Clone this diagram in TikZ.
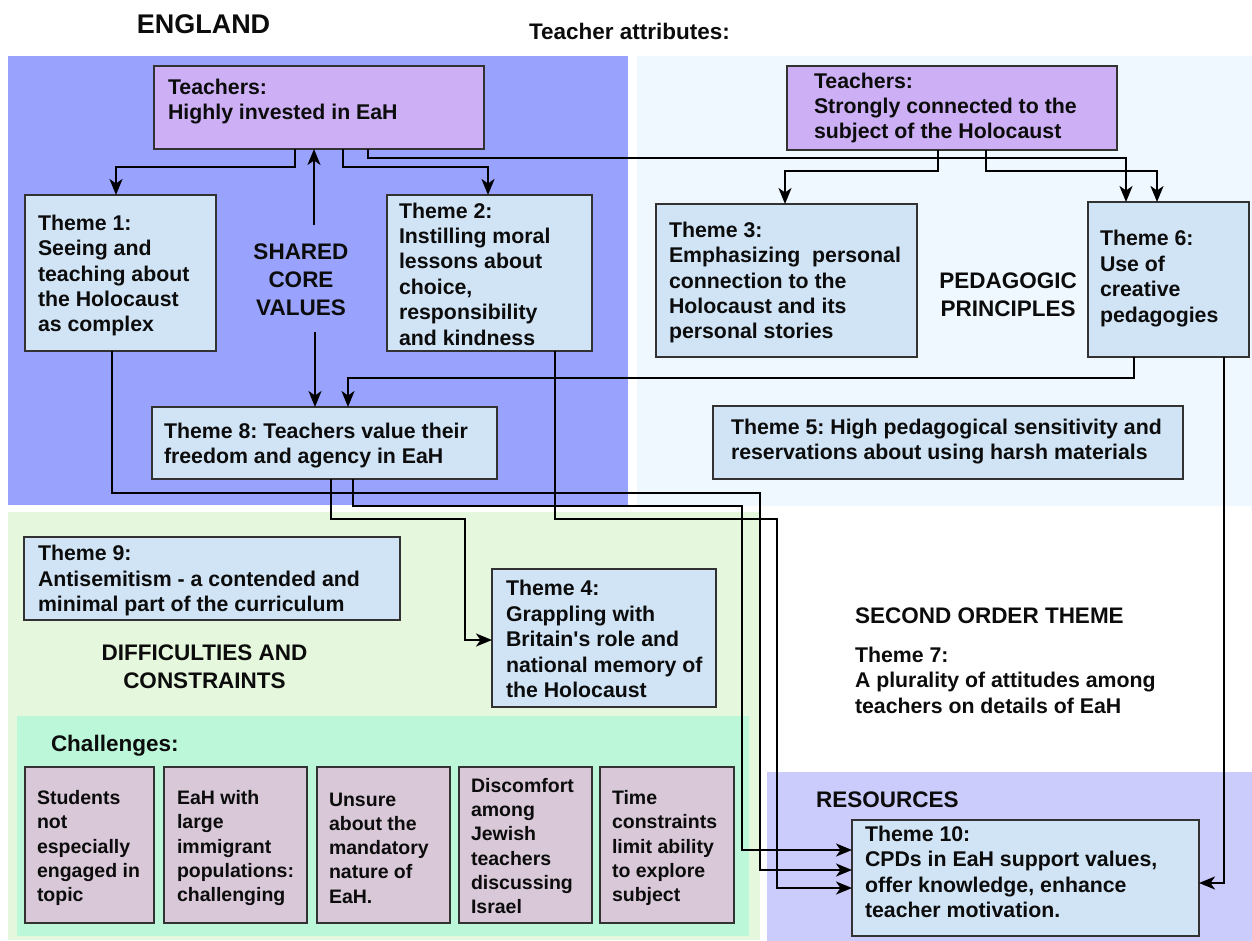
\documentclass[tikz,border=0pt]{standalone}
\usepackage{fontspec}
\setmainfont{Liberation Sans}
\usetikzlibrary{arrows.meta}

\definecolor{engbg}{RGB}{153,163,254}
\definecolor{pedbg}{RGB}{238,248,254}
\definecolor{difbg}{RGB}{229,247,220}
\definecolor{chalbg}{RGB}{187,247,216}
\definecolor{resbg}{RGB}{204,204,252}
\definecolor{teachfill}{RGB}{204,175,245}
\definecolor{themefill}{RGB}{208,228,246}
\definecolor{chalfill}{RGB}{216,200,216}
\definecolor{boxline}{RGB}{50,50,50}
\definecolor{ink}{RGB}{12,12,12}

\begin{document}
\frenchspacing
\begin{tikzpicture}[x=1pt, y=-1pt,
  every node/.style={inner sep=0pt, outer sep=0pt},
  box/.style={draw=boxline, line width=1.3pt, inner sep=0pt},
  theme/.style={box, fill=themefill},
  teacher/.style={box, fill=teachfill},
  chal/.style={box, fill=chalfill},
  txt/.style={align=left, text=ink, font=\fontsize{21.3}{25.4}\selectfont\bfseries\frenchspacing},
  chtxt/.style={align=left, text=ink, font=\fontsize{19.5}{24.3}\selectfont\bfseries\frenchspacing},
  head/.style={align=center, text=ink, font=\fontsize{22.5}{27.5}\selectfont\bfseries\frenchspacing},
  bighead/.style={text=ink, font=\fontsize{27}{32}\selectfont\bfseries},
  link/.style={line width=2.2pt, draw=black, -{Stealth[length=16pt,width=13pt,inset=4.5pt]}},
]
\useasboundingbox (0,0) rectangle (1252,941);

% background regions
\fill[engbg]  (8,56)    rectangle (628,505);
\fill[pedbg]  (637,56)  rectangle (1252,506);
\fill[difbg]  (8,512)   rectangle (760,940);
\fill[chalbg] (17,716)  rectangle (749,936);
\fill[resbg]  (767,772) rectangle (1252,941);

% headings (multi-line nodes sit on the baseline of their last line)
\node[bighead, anchor=base] (england) at (203.5,34) {ENGLAND};
\node[head, anchor=base] (attr) at (629.5,40) {Teacher attributes:};
\node[head, anchor=base] (shared) at (301,315) {SHARED\\CORE\\VALUES};
\node[head, anchor=base] (pedag) at (1008,316) {PEDAGOGIC\\PRINCIPLES};
\node[head, anchor=base] (diffs) at (204.5,688) {DIFFICULTIES AND\\CONSTRAINTS};
\node[head, anchor=base west] (chall) at (51,751) {Challenges:};
\node[head, anchor=base west] (second) at (855,623) {SECOND ORDER THEME};
\node[txt, anchor=base west] (t7) at (855,713) {Theme 7:\\A plurality of attitudes among\\teachers on details of EaH};
\node[head, anchor=base west] (res) at (816,807) {RESOURCES};

% teacher attribute boxes
\node[teacher, minimum width=330pt, minimum height=83pt] (teachE) at (319,107.5) {};
\node[txt, anchor=west] (teachEx) at ([xshift=14pt, yshift=6pt]teachE.west) {Teachers:\\Highly invested in EaH};
\node[teacher, minimum width=330pt, minimum height=84pt] (teachS) at (952,108) {};
\node[txt, anchor=west] (teachSx) at ([xshift=27pt]teachS.west) {Teachers:\\Strongly connected to the\\subject of the Holocaust};

% theme boxes
\node[theme, minimum width=191pt, minimum height=156pt] (t1) at (120.5,273) {};
\node[txt, anchor=west] (t1x) at ([xshift=13pt, yshift=-2.5pt]t1.west) {Theme 1:\\Seeing and\\teaching about\\the Holocaust\\as complex};
\node[theme, minimum width=205pt, minimum height=156pt] (t2) at (489.5,273) {};
\node[txt, anchor=west] (t2x) at ([xshift=12pt, yshift=-1pt]t2.west) {Theme 2:\\Instilling moral\\lessons about\\choice,\\responsibility\\and kindness};
\node[theme, minimum width=261pt, minimum height=153pt] (t3) at (786.5,280.5) {};
\node[txt, anchor=west] (t3x) at ([xshift=13pt, yshift=-2pt]t3.west) {Theme 3:\\Emphasizing\ \ personal\\connection to the\\Holocaust and its\\personal stories};
\node[theme, minimum width=161pt, minimum height=155pt] (t6) at (1168.5,279.5) {};
\node[txt, anchor=west] (t6x) at ([xshift=12pt, yshift=1pt]t6.west) {Theme 6:\\Use of\\creative\\pedagogies};
\node[theme, minimum width=345pt, minimum height=72pt] (t8) at (324.5,443) {};
\node[txt, anchor=west] (t8x) at ([xshift=12pt, yshift=-2.5pt]t8.west) {Theme 8: Teachers value their\\freedom and agency in EaH};
\node[theme, minimum width=470pt, minimum height=73pt] (t5) at (948,442.5) {};
\node[txt, anchor=west] (t5x) at ([xshift=18pt, yshift=1pt]t5.west) {Theme 5: High pedagogical sensitivity and\\reservations about using harsh materials};
\node[theme, minimum width=376pt, minimum height=83pt] (t9) at (212,578.5) {};
\node[txt, anchor=west] (t9x) at ([xshift=14pt, yshift=-2pt]t9.west) {Theme 9:\\Antisemitism - a contended and\\minimal part of the curriculum};
\node[theme, minimum width=224pt, minimum height=138pt] (t4) at (604,638) {};
\node[txt, anchor=west] (t4x) at ([xshift=14pt, yshift=-1pt]t4.west) {Theme 4:\\Grappling with\\Britain\textquotesingle s role and\\national memory of\\the Holocaust};
\node[theme, minimum width=347pt, minimum height=116pt] (t10) at (1025.5,878) {};
\node[txt, anchor=west] (t10x) at ([xshift=13pt, yshift=6pt]t10.west) {Theme 10:\\CPDs in EaH support values,\\offer knowledge, enhance\\teacher motivation.};

% challenge boxes
\node[chal, minimum width=129pt, minimum height=156pt] (c1) at (89.5,845) {};
\node[chtxt, anchor=west] (c1x) at ([xshift=12pt, yshift=-3pt]c1.west) {Students\\not\\especially\\engaged in\\topic};
\node[chal, minimum width=143pt, minimum height=156pt] (c2) at (235.5,845) {};
\node[chtxt, anchor=west] (c2x) at ([xshift=13pt, yshift=-3pt]c2.west) {EaH with\\large\\immigrant\\populations:\\challenging};
\node[chal, minimum width=133pt, minimum height=156pt] (c3) at (383.5,845) {};
\node[chtxt, anchor=west] (c3x) at ([xshift=12pt, yshift=-3pt]c3.west) {Unsure\\about the\\mandatory\\nature of\\EaH.};
\node[chal, minimum width=133pt, minimum height=156pt] (c4) at (525.5,845) {};
\node[chtxt, anchor=west] (c4x) at ([xshift=12pt, yshift=-1pt]c4.west) {Discomfort\\among\\Jewish\\teachers\\discussing\\Israel};
\node[chal, minimum width=134pt, minimum height=156pt] (c5) at (667,845) {};
\node[chtxt, anchor=west] (c5x) at ([xshift=12pt, yshift=-3pt]c5.west) {Time\\constraints\\limit ability\\to explore\\subject};

% connector end points
\coordinate (shUp)  at (314,225);
\coordinate (shDn)  at (315,332);

% teachers (England) to themes 1, 2, 6 and shared values up
\draw[link] ([xshift=-24pt]teachE.south) -- ++(0,18) -| ([xshift=-4.5pt]t1.north);
\draw[link] (shUp) -- ([xshift=-5pt]teachE.south);
\draw[link] ([xshift=24pt]teachE.south) -- ++(0,18) -| ([xshift=-1.5pt]t2.north);
\draw[link] ([xshift=49pt]teachE.south) -- ++(0,9) -| ([xshift=-42.5pt]t6.north);

% teachers (subject) to themes 3 and 6
\draw[link] ([xshift=-14pt]teachS.south) -- ++(0,21) -| ([xshift=-1.5pt]t3.north);
\draw[link] ([xshift=34pt]teachS.south) -- ++(0,21) -| ([xshift=-11.5pt]t6.north);

% into theme 8
\draw[link] ([xshift=-34.5pt]t6.south) -- ++(0,21) -| ([xshift=23.5pt]t8.north);
\draw[link] (shDn) -- ([xshift=-9.5pt]t8.north);

% into theme 10
\draw[link] ([xshift=55.5pt]t6.south) |- ([yshift=-5pt]t10.east);
\draw[link] ([xshift=-8.5pt]t1.south) -- ++(0,142) -- ++(648,0) |- ([yshift=8pt]t10.west);
\draw[link] ([xshift=28.5pt]t8.south) -- ++(0,27) -- ++(389,0) |- ([yshift=28pt]t10.west);
\draw[link] ([xshift=65.5pt]t2.south) -- ++(0,168) -- ++(222,0) |- ([yshift=-10pt]t10.west);

% theme 8 to theme 4
\draw[link] ([xshift=6.5pt]t8.south) -- ++(0,40) -- ++(134,0) |- ([yshift=-2pt]t4.west);

\end{tikzpicture}
\end{document}
